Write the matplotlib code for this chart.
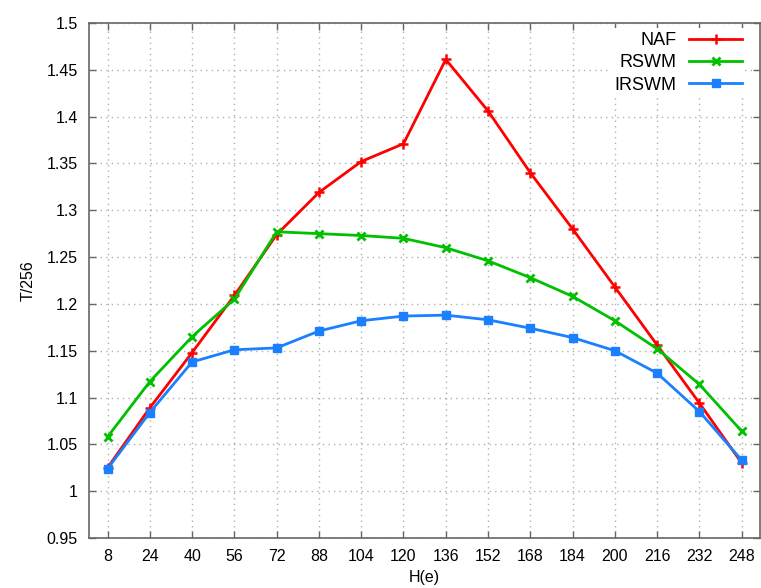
import matplotlib
matplotlib.use("Agg")
import matplotlib.pyplot as plt
import numpy as np

plt.rcParams['font.family'] = ['Liberation Sans', 'DejaVu Sans']

# H(e) values
he = [8, 24, 40, 56, 72, 88, 104, 120, 136, 152, 168, 184, 200, 216, 232, 248]

naf = [1.025, 1.089, 1.148, 1.209, 1.274, 1.319, 1.352, 1.371,
       1.461, 1.406, 1.340, 1.280, 1.218, 1.156, 1.094, 1.030]
rswm = [1.058, 1.117, 1.165, 1.205, 1.277, 1.275, 1.273, 1.270,
        1.260, 1.246, 1.228, 1.208, 1.182, 1.152, 1.114, 1.064]
irswm = [1.024, 1.084, 1.138, 1.151, 1.153, 1.171, 1.182, 1.187,
         1.188, 1.183, 1.174, 1.164, 1.150, 1.126, 1.085, 1.033]

yticks = np.arange(0.95, 1.5001, 0.05)

fig = plt.figure(figsize=(7.61, 5.88), dpi=100)
ax = fig.add_axes([0.117, 0.085, 0.882, 0.876])

ax.plot(he, naf, color='#ff0000', lw=2, marker='+', ms=7, mew=1.8, label='NAF')
ax.plot(he, rswm, color='#00c000', lw=2, marker='x', ms=6, mew=2, label='RSWM')
ax.plot(he, irswm, color='#1a80ff', lw=2, marker='s', ms=6, label='IRSWM')

ax.set_xlim(1, 255)
ax.set_ylim(0.95, 1.5)
ax.set_xticks(he)
ax.set_yticks(yticks)
ax.set_yticklabels([f"{v:g}" for v in np.round(yticks, 2)])
ax.tick_params(direction='in', length=5, width=1, color='#666666',
               labelsize=11.5, top=True, right=True, pad=8)
ax.grid(True, color='#b0b0b0', linestyle=(0, (1, 3)), linewidth=1)
for s in ax.spines.values():
    s.set_color('#666666')
    s.set_linewidth(1.2)

ax.set_xlabel('H(e)', fontsize=11.5, labelpad=4)
ax.set_ylabel('T/256', fontsize=11.5, labelpad=8)

leg = ax.legend(loc='upper right', bbox_to_anchor=(0.986, 1.0),
                markerfirst=False, frameon=True,
                fontsize=13, handlelength=2.9, labelspacing=0.3,
                borderaxespad=0.3, borderpad=0.2, handletextpad=0.7)
leg.get_frame().set_edgecolor('none')
leg.get_frame().set_facecolor('white')
leg.get_frame().set_alpha(1)
for t in leg.get_texts():
    t.set_ha('right')

fig.savefig('out.png', dpi=100)
